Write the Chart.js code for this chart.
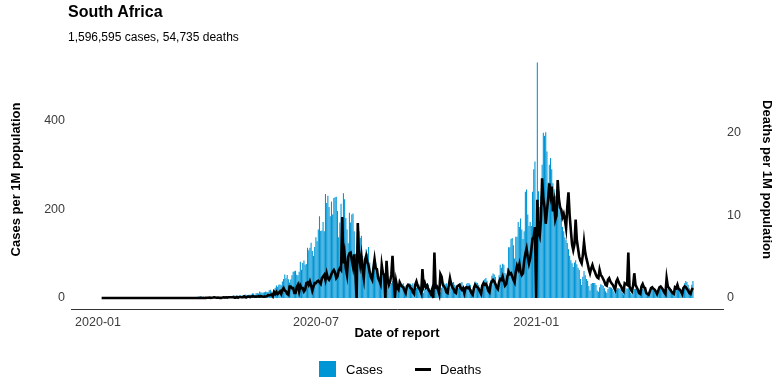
<!DOCTYPE html>
<html>
<head>
<meta charset="utf-8">
<script src="https://cdn.jsdelivr.net/npm/chart.js@4"></script>
<style>
  body { margin: 0; background: #fff; font-family: "Liberation Sans", Arial, sans-serif; }
  #wrap { position: relative; width: 784px; height: 392px; }
  #title { position: absolute; left: 68px; top: 4px; font-size: 16px; line-height: 16px; font-weight: bold; color: #000; }
  #sub { position: absolute; left: 68px; top: 30.5px; font-size: 12px; line-height: 12px; color: #000; }
  .lg { position: absolute; top: 361px; height: 16px; display: flex; align-items: center; font-size: 13px; color: #000; }
</style>
</head>
<body>
<div id="wrap">
  <canvas id="grafico" width="784" height="392"></canvas>
  <div id="title">South Africa</div>
  <div id="sub">1,596,595 cases, 54,735 deaths</div>
  <div class="lg" style="left:319px"><span style="display:inline-block;width:17px;height:16px;background:#0096d6"></span><span style="margin-left:10px">Cases</span></div>
  <div class="lg" style="left:415px"><span style="display:inline-block;width:16px;height:3px;background:#000"></span><span style="margin-left:9px">Deaths</span></div>
</div>
<script>
// first reported day is 2020-01-04 = day 3 counted from 2020-01-01
const startDay = 3;

// daily cases per 1M population, one line per month
const casos = [
  0,0,0,0,0,0,0,0,0,0,0,0,0,0,0,0,0,0,0,0,0,0,0,0,0,0,0,0,
  0,0,0,0,0,0,0,0,0,0,0,0,0,0,0,0,0,0,0,0,0,0,0,0,0,0,0,0,0,
  0,0,0,0,0.02,0,0.02,0.02,0.07,0,0.1,0.07,0.12,0.24,0.22,0.19,0.39,0.53,0.58,0.89,0.65,0.58,2.19,2.6,2.65,3.72,4.15,1.74,0.22,0.79,1.4,
  1.2,1.6,2.3,2.8,1.7,1.9,1.6,0.8,1.6,1.2,2.6,2.4,1.7,1.5,1.6,1.9,2.4,4.4,3.1,2.1,2.8,2.8,5.8,5.3,4.8,5.5,4.1,5.5,5.6,5.1,
  5.9,6.3,7.6,6.1,5.7,7.5,7.1,7.6,10.5,10.1,6.5,10.6,11.1,10.4,14.4,12.9,11.7,12.6,13.1,14.9,13.5,13.6,17.3,18.4,14.8,11.2,18.6,22.8,28.2,25.1,29.8,
  30.4,28.5,37.1,42.5,52.8,44.3,52,42,34.7,41.7,51,59.1,60.3,61.2,52.3,51.4,59,81.4,63.4,78.7,84.2,75.1,76.4,113,107.5,113.2,124.1,105.8,94.6,114.6,
  137,128,154,184,151,152,171,150,234,214,230,205,184,217,188,225,227,228,196,137,170,212,171,236,222,180,154,123,192,170,188,
  190,150,100,85,150,150,135,140,95,60,90,110,100,115,80,55,55,50,80,78,68,52,48,30,52,50,50,52,42,36,25,
  30,34,38,33,31,26,17,24,30,29,31,33,26,16,13,25,33,32,29,33,20,13,23,25,31,28,26,16,12,20,
  28,33,30,22,12,21,29,32,33,30,27,18,13,23,28,33,31,33,20,14,22,33,35,36,30,26,15,22,30,33,36,
  25,15,27,32,34,33,30,20,13,27,37,35,34,30,24,15,30,40,42,45,39,27,17,40,50,55,53,47,28,19,
  51,75,68,77,75,56,51,68,114,114,133,135,119,89,138,138,171,160,179,154,133,150,239,244,188,162,171,162,239,290,307,
  0,530,240,205,230,300,372,365,373,330,260,300,315,290,258,245,230,205,215,240,205,180,160,150,137,130,124,110,95,85,78,
  70,80,85,76,68,63,43,29,48,61,51,43,39,27,17,32,34,34,34,29,17,14,24,31,29,27,22,15,
  12,20,25,24,23,20,15,10,18,22,22,21,18,12,8,17,22,21,22,17,12,8,16,20,21,20,17,12,8,17,21,
  20,18,10,7,6,11,17,19,17,16,12,7,12,18,20,20,17,13,8,15,21,22,22,20,16,9,17,24,25,23,
  22,17,12,25,33,38,36,30,22,16,30,38
];

// daily deaths per 1M population, one line per month
const obitos = [
  0,0,0,0,0,0,0,0,0,0,0,0,0,0,0,0,0,0,0,0,0,0,0,0,0,0,0,0,
  0,0,0,0,0,0,0,0,0,0,0,0,0,0,0,0,0,0,0,0,0,0,0,0,0,0,0,0,0,
  0,0,0,0,0,0,0,0,0,0,0,0,0,0,0,0,0,0,0,0,0,0,0,0,0,0,0.02,0,0.02,0,0.02,
  0.03,0.03,0.05,0.02,0.03,0.05,0.09,0.07,0.03,0.05,0.03,0.02,0.02,0.05,0.09,0.05,0.09,0.05,0.09,0.1,0.1,0.1,0.12,0.05,0.05,0.12,0.03,0.12,0.12,0.09,
  0.1,0.2,0.1,0.08,0.18,0.17,0.12,0.18,0.2,0.2,0.15,0.17,0.19,0.2,0.17,0.22,0.19,0.15,0.17,0.18,0.2,0.36,0.31,0.38,0.43,0.22,0.72,0.48,0.73,0.47,0.63,
  0.8,0.5,1.0,1.2,0.9,0.8,0.5,0.4,1.4,1.4,1.2,1.2,0.6,0.6,1.3,1.6,0.8,1.5,1.2,1.2,0.8,1.0,1.8,1.9,1.6,2.0,1.5,0.9,1.4,1.8,
  1.8,2.0,2.1,1.9,1.7,2.4,2.6,2.8,2.2,3.0,2.4,2.2,2.5,2.9,3.2,3.4,3.1,2.4,2.6,3.3,3.6,3.4,9.8,4.2,5.3,3.6,2.8,5.0,5.4,5.5,4.6,
  3.8,5.3,3.1,0,9.1,5.0,4.0,5.1,3.4,2.4,4.6,5.1,4.3,3.9,3.1,2.5,2.2,3.6,4.7,3.6,3.5,2.4,2.1,1.7,4.0,3.0,2.8,0,4.5,2.2,1.6,
  2.0,2.8,5.1,2.3,0,2.0,1.2,1.0,1.9,1.6,1.4,1.3,0.9,0.6,1.4,1.6,1.5,1.2,1.1,0.7,0.5,1.6,2.0,1.5,1.2,1.0,0.6,3.5,1.4,1.8,
  1.3,1.5,1.0,0.8,0.5,1.0,0,5.5,1.3,1.4,1.0,0.5,2.9,2.6,1.6,1.4,1.2,0.7,0.6,1.5,2.4,1.7,1.3,1.1,0.7,0.6,1.4,1.5,1.6,1.2,1.0,
  1.2,0.6,1.2,1.3,1.2,1.3,0.9,0.6,0.4,1.2,1.6,1.4,1.3,1.1,0.8,0.5,1.5,1.8,1.6,1.7,1.4,0.9,0.7,1.7,2.0,2.2,2.0,1.7,1.3,1.1,
  1.9,2.3,2.2,2.6,2.0,1.5,1.7,2.6,3.2,2.9,3.0,2.6,2.2,1.9,3.2,3.9,3.5,4.1,3.2,2.8,3.0,4.5,5.4,6.0,5.0,4.2,4.8,5.9,7.2,7.4,8.6,
  0,11.9,8.0,7.5,9.5,14.5,12.0,11.0,9.0,10.5,12.0,13.9,12.5,13.5,10.5,11.5,9.5,10.0,14.3,12.0,11.0,10.7,9.8,10.2,9.5,8.5,11.0,12.8,10.0,8.2,6.5,
  5.8,6.5,9.5,7.0,6.0,5.0,4.5,4.2,5.2,6.8,5.5,4.8,4.2,3.5,3.0,3.6,4.0,3.5,3.2,2.8,2.5,2.4,3.4,2.8,2.6,2.3,2.0,1.6,
  1.5,2.2,2.4,2.0,1.8,1.6,1.3,1.0,2.0,2.3,1.9,1.6,1.4,1.0,0.8,1.8,1.7,1.6,5.5,1.4,1.0,0.8,1.5,3.0,1.6,1.3,1.0,0.6,0.5,1.4,1.7,
  1.3,1.2,0.6,0.5,0.4,0.8,1.2,1.3,1.1,1.0,0.8,0.5,0.9,1.3,1.4,1.2,1.0,0.7,0.5,2.4,1.4,1.2,1.0,0.8,0.6,0.5,1.3,1.2,1.6,1.1,
  1.0,0.8,0.5,1.2,1.4,1.3,1.1,0.9,0.6,0.5,1.0,1.2
];

// x ticks (days since 2020-01-01) and their labels
const diasTicks = [0, 182, 366];
const rotulosTicks = ['2020-01', '2020-07', '2021-01'];
const ticksCasos = [0, 200, 400];
const ticksObitos = [0, 10, 20];

const corCasos = '#0096d6';
const corTexto = '#3c3c3c';
Chart.defaults.font.family = '"Liberation Sans", Arial, sans-serif';

const pontosCasos = casos.map((v, i) => ({ x: startDay + i, y: v }));
const pontosObitos = obitos.map((v, i) => ({ x: startDay + i, y: v }));

const ctx = document.getElementById('grafico').getContext('2d');
new Chart(ctx, {
    type: 'bar',
    data: {
        datasets: [{
            type: 'line',
            label: 'Deaths',
            data: pontosObitos,
            yAxisID: 'y2',
            borderColor: '#000',
            borderWidth: 2.6,
            pointRadius: 0,
            tension: 0,
            order: 0
        }, {
            type: 'bar',
            label: 'Cases',
            data: pontosCasos,
            yAxisID: 'y',
            backgroundColor: corCasos,
            barPercentage: 0.9,
            categoryPercentage: 1,
            order: 1
        }]
    },
    options: {
        responsive: false,
        animation: false,
        layout: { padding: { left: 9, right: 10, top: 50, bottom: 51 } },
        plugins: { legend: { display: false }, tooltip: { enabled: false } },
        scales: {
            x: {
                type: 'linear',
                min: -22.6,
                max: 522.1,
                offset: false,
                grid: { display: false, drawTicks: false },
                border: { display: true, color: '#333', width: 1 },
                afterBuildTicks: s => { s.ticks = diasTicks.map(v => ({ value: v })); },
                afterFit: s => { s.height = 32; },
                ticks: {
                    autoSkip: false, maxRotation: 0, padding: 6, color: corTexto,
                    font: { size: 12.5 },
                    callback: v => rotulosTicks[diasTicks.indexOf(v)]
                },
                title: { display: true, text: 'Date of report', color: '#000', padding: 0, font: { size: 13, weight: 'bold' } }
            },
            y: {
                position: 'left',
                min: -24.76,
                max: 558.2,
                grid: { display: false, drawTicks: false },
                border: { display: false },
                afterBuildTicks: s => { s.ticks = ticksCasos.map(v => ({ value: v })); },
                afterFit: s => { s.width = 62; },
                ticks: { padding: 6, color: corTexto, font: { size: 12.5 } },
                title: { display: true, text: 'Cases per 1M population', color: '#000', padding: 0, font: { size: 13, weight: 'bold' } }
            },
            y2: {
                position: 'right',
                min: -1.333,
                max: 30.06,
                grid: { display: false, drawTicks: false },
                border: { display: false },
                afterBuildTicks: s => { s.ticks = ticksObitos.map(v => ({ value: v })); },
                afterFit: s => { s.width = 51; },
                ticks: { padding: 4, color: corTexto, font: { size: 12.5 } },
                title: { display: true, text: 'Deaths per 1M population', color: '#000', padding: 0, font: { size: 13, weight: 'bold' } }
            }
        }
    }
});
</script>
</body>
</html>
